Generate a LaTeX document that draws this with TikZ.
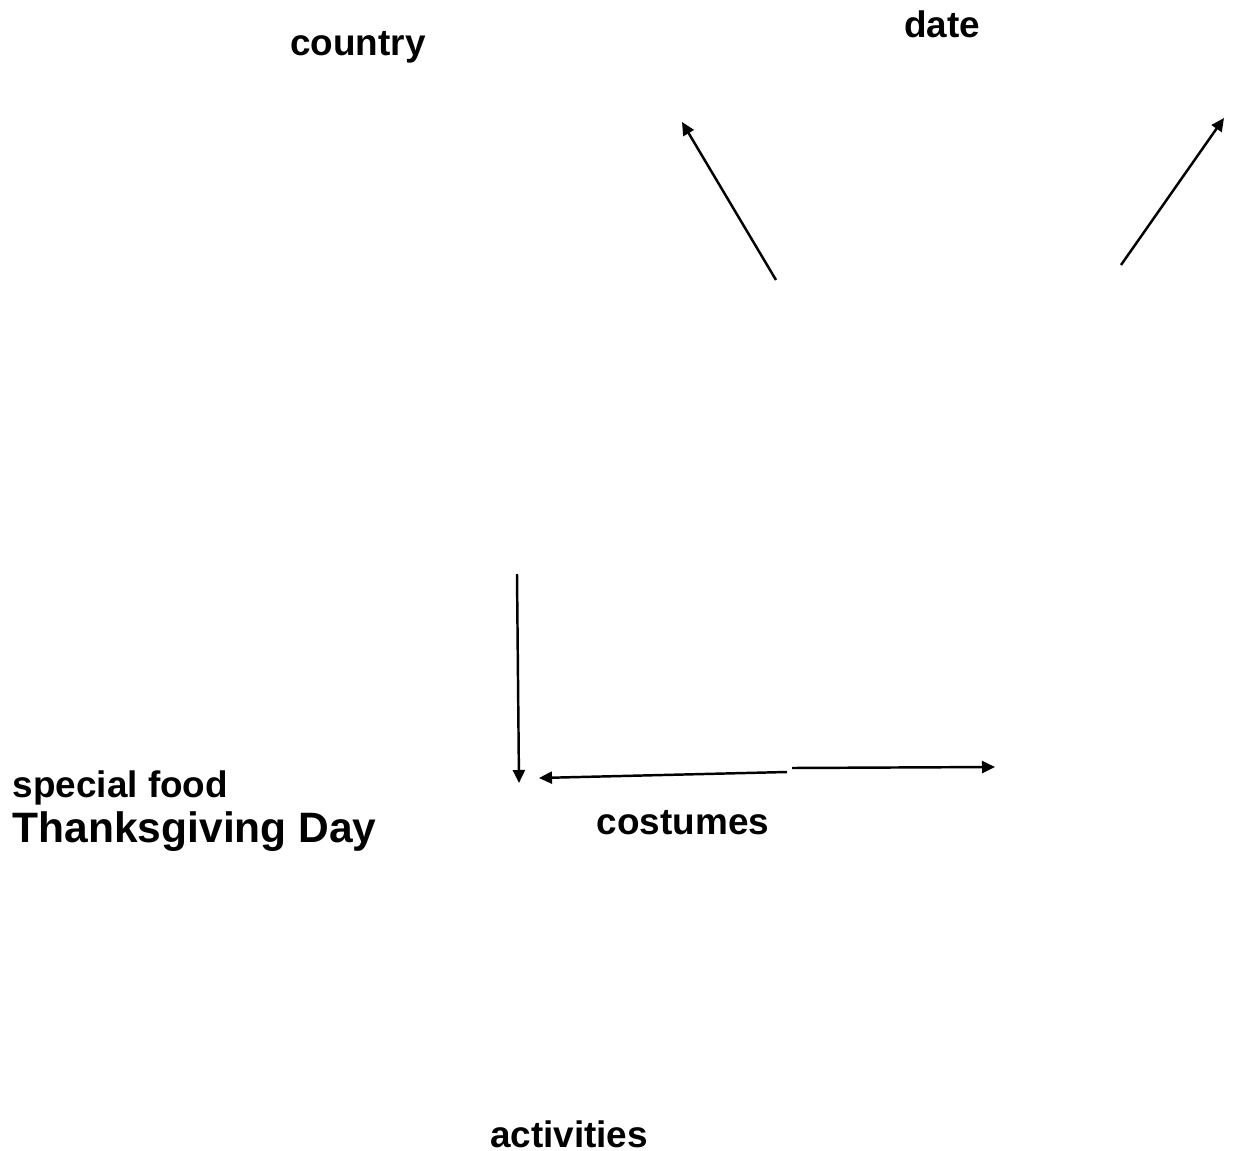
\documentclass[tikz,border=0pt]{standalone}
\usepackage{fontspec}
\setmainfont{Liberation Sans}
\usetikzlibrary{arrows.meta}

\begin{document}
\begin{tikzpicture}[x=0.1mm,y=-0.1mm,
    word/.style={inner sep=0pt,font=\bfseries\fontsize{10.5}{12}\selectfont},
    pointer/.style={-{Triangle[length=1.3mm,width=1.2mm]},line width=0.7pt}]
            \useasboundingbox (0,0) rectangle (1237,1151);
            \node[word,anchor=base] (country) at (358,56) {country};
            \node[word,anchor=base] (date) at (942,38) {date};
            \node[word,anchor=base west] (food) at (12,797) {special food};
            \node[word,anchor=base west,font=\bfseries\fontsize{12.1}{14}\selectfont] (thanks) at (12,842) {Thanksgiving Day};
            \node[word,anchor=base] (costumes) at (683,834) {costumes};
            \node[word,anchor=base] (activities) at (569,1147) {activities};
            % arrow ends
            \coordinate (upL) at (776,280);
            \coordinate (upLtip) at (682,122);
            \coordinate (upR) at (1121,265);
            \coordinate (upRtip) at (1224,118);
            \coordinate (down) at (517,574);
            \coordinate (downtip) at (519,783);
            \coordinate (left) at (787,772);
            \coordinate (lefttip) at (539,778);
            \coordinate (right) at (792,768);
            \coordinate (righttip) at (995,767);
            \draw[pointer] (upL)--(upLtip);
            \draw[pointer] (upR)--(upRtip);
            \draw[pointer] (down)--(downtip);
            \draw[pointer] (left)--(lefttip);
            \draw[pointer] (right)--(righttip);
        \end{tikzpicture}
\end{document}
